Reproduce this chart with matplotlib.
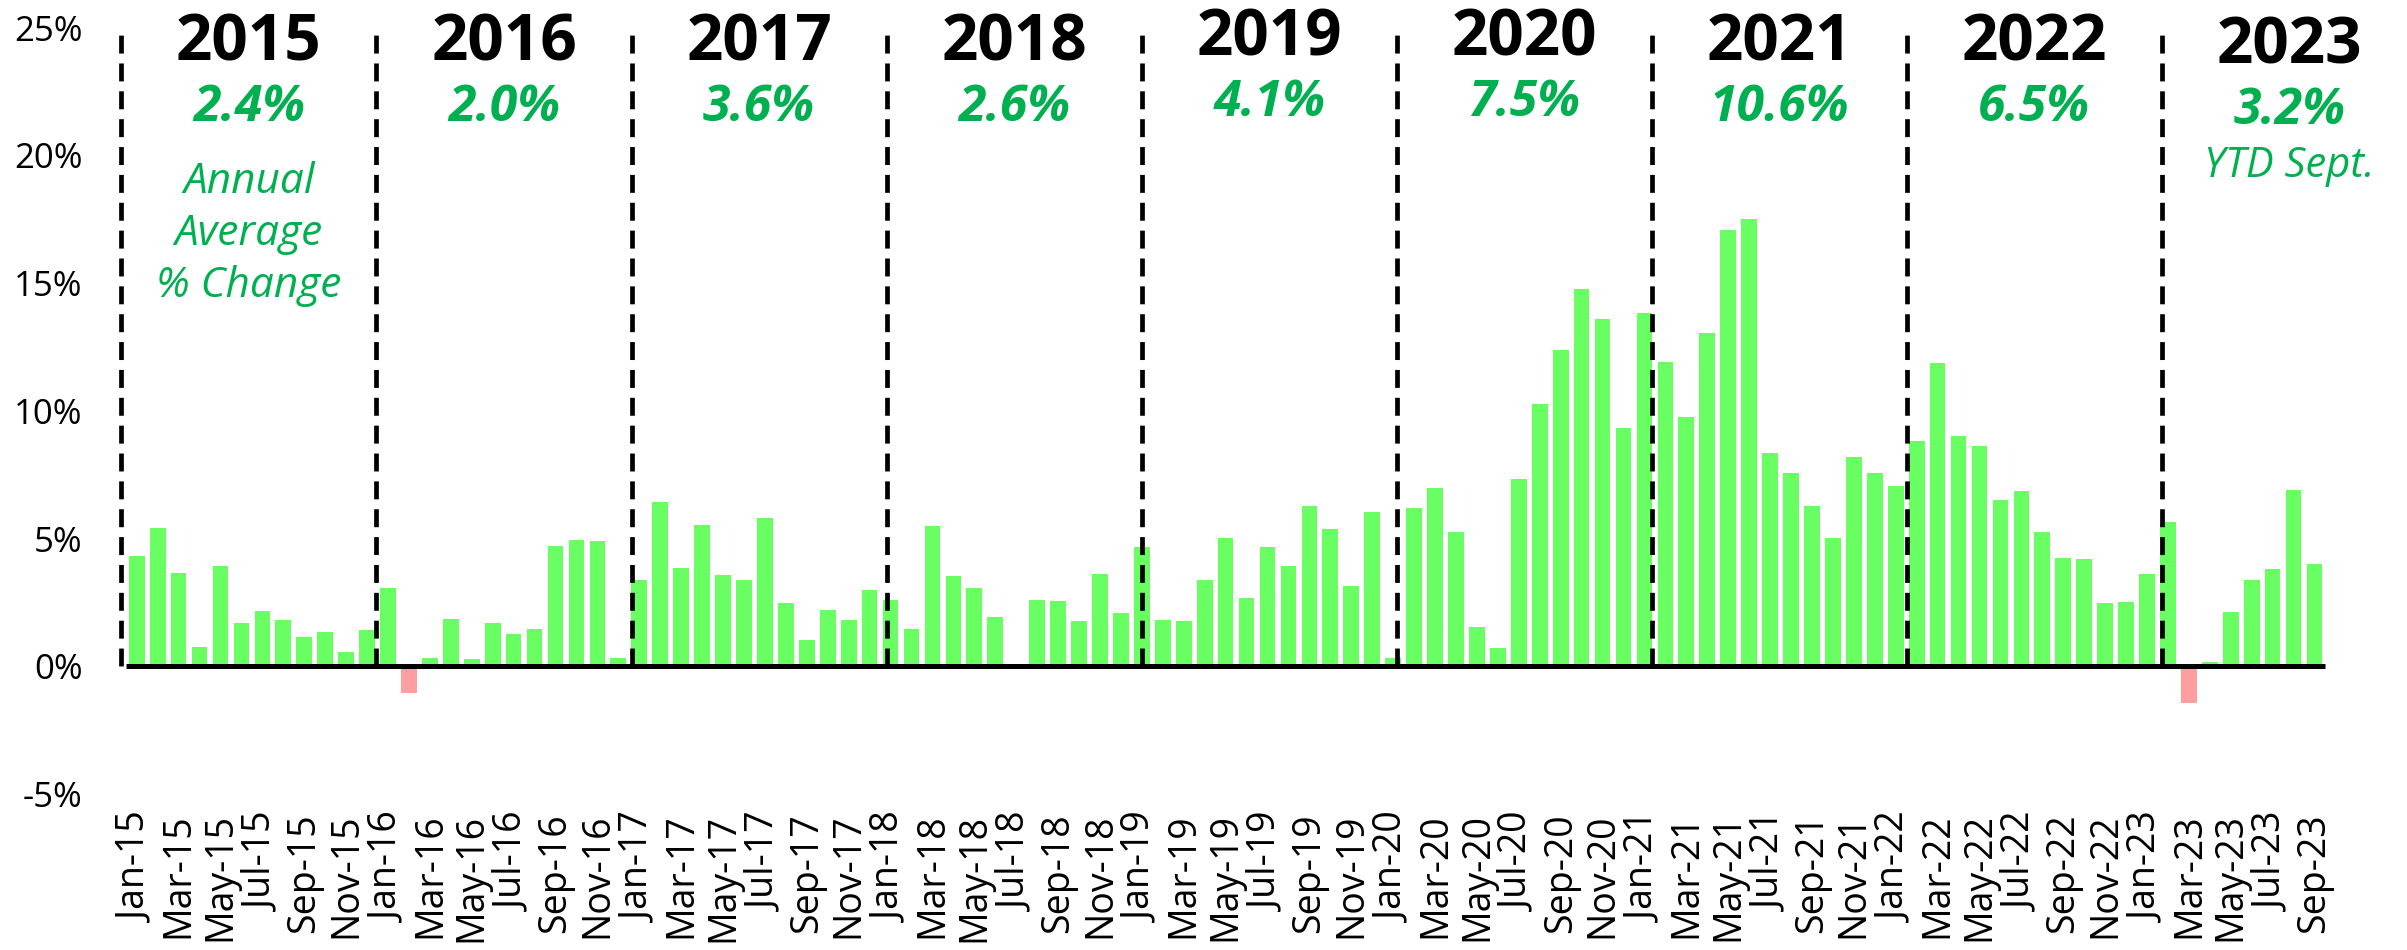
import matplotlib
matplotlib.use('Agg')
import matplotlib.pyplot as plt

years = ['2015', '2016', '2017', '2018', '2019', '2020', '2021', '2022', '2023']
annual_avg = ['2.4%', '2.0%', '3.6%', '2.6%', '4.1%', '7.5%', '10.6%', '6.5%', '3.2%']
months = ['Jan', 'Feb', 'Mar', 'Apr', 'May', 'Jun',
          'Jul', 'Aug', 'Sep', 'Oct', 'Nov', 'Dec']

# monthly % change, year over year
chg_2015 = [4.32, 5.43, 3.66, 0.75, 3.93, 1.70, 2.18, 1.82, 1.13, 1.36, 0.54, 1.43]
chg_2016 = [3.07, -1.04, 0.32, 1.86, 0.29, 1.70, 1.27, 1.45, 4.70, 4.93, 4.89, 0.32]
chg_2017 = [3.38, 6.45, 3.84, 5.55, 3.57, 3.39, 5.79, 2.48, 1.04, 2.20, 1.80, 2.98]
chg_2018 = [2.61, 1.46, 5.48, 3.54, 3.07, 1.91, 0.00, 2.61, 2.55, 1.79, 3.61, 2.09]
chg_2019 = [4.66, 1.80, 1.79, 3.36, 5.02, 2.68, 4.66, 3.93, 6.29, 5.38, 3.14, 6.02]
chg_2020 = [0.34, 6.21, 6.98, 5.25, 1.55, 0.73, 7.34, 10.27, 12.39, 14.75, 13.59, 9.34]
chg_2021 = [13.84, 11.93, 9.75, 13.05, 17.07, 17.50, 8.36, 7.55, 6.29, 5.04, 8.21, 7.57]
chg_2022 = [7.07, 8.80, 11.86, 9.02, 8.61, 6.52, 6.86, 5.25, 4.23, 4.21, 2.48, 2.52]
chg_2023 = [3.63, 5.63, -1.43, 0.18, 2.14, 3.36, 3.80, 6.89, 4.00]

values = (chg_2015 + chg_2016 + chg_2017 + chg_2018 + chg_2019
          + chg_2020 + chg_2021 + chg_2022 + chg_2023)
labels = [f'{m}-{y[2:]}' for y in years for m in months][:len(values)]
x = list(range(len(values)))

plt.rcParams['font.family'] = ['Open Sans', 'DejaVu Sans']

GREEN_BAR = '#69FF63'
RED_BAR = '#FF9E9E'
GREEN_TXT = '#00B050'

fig = plt.figure(figsize=(24.07, 9.5), dpi=100)
ax = fig.add_axes([0.0481, 0.1642, 0.9187, 0.8067])

colors = [GREEN_BAR if v >= 0 else RED_BAR for v in values]
ax.bar(x, values, width=0.75, color=colors, zorder=2)
ax.plot([-0.5, len(values) - 0.5], [0, 0], color='black', lw=3.6, zorder=3,
        solid_capstyle='butt')

# dashed separators between years, with the year header centred in each band
first_line = -0.73
line_step = 12.18
title_lift = [0, 0, 0, 0, 0.18, 0.18, 0, 0, -0.14]
for k, yr in enumerate(years):
    lx = first_line + k * line_step
    ax.plot([lx, lx], [0, 25], color='black', lw=3.4,
            linestyle=(0, (3.8, 2.1)), zorder=4)
    cx = lx + line_step / 2
    ax.text(cx, 23.73 + title_lift[k], yr, ha='center', va='baseline',
            fontsize=46, fontweight='bold', color='black', clip_on=False)
    ax.text(cx, 21.36 + title_lift[k], annual_avg[k], ha='center', va='baseline',
            fontsize=36, fontweight='bold', fontstyle='italic', color=GREEN_TXT,
            clip_on=False)
    if k == 0:
        ax.text(cx, 14.47, 'Annual\nAverage\n% Change', ha='center',
                va='baseline', fontsize=30.5, fontstyle='italic',
                color=GREEN_TXT, linespacing=1.31)
    if k == len(years) - 1:
        ax.text(cx, 19.15, 'YTD Sept.', ha='center', va='baseline',
                fontsize=30, fontstyle='italic', color=GREEN_TXT, clip_on=False)

ax.set_xlim(-1, len(values) - 0.4)
ax.set_ylim(-5, 25)
ax.set_yticks(range(-5, 30, 5))
ax.set_yticklabels([f'{t}%' for t in range(-5, 30, 5)], fontsize=25)
ax.set_xticks(x[::2])
ax.set_xticklabels(labels[::2], rotation=90, fontsize=27)
ax.tick_params(axis='both', length=0)
ax.tick_params(axis='y', pad=24)
ax.tick_params(axis='x', pad=14)
for s in ax.spines.values():
    s.set_visible(False)

fig.savefig('out.png', dpi=100)
